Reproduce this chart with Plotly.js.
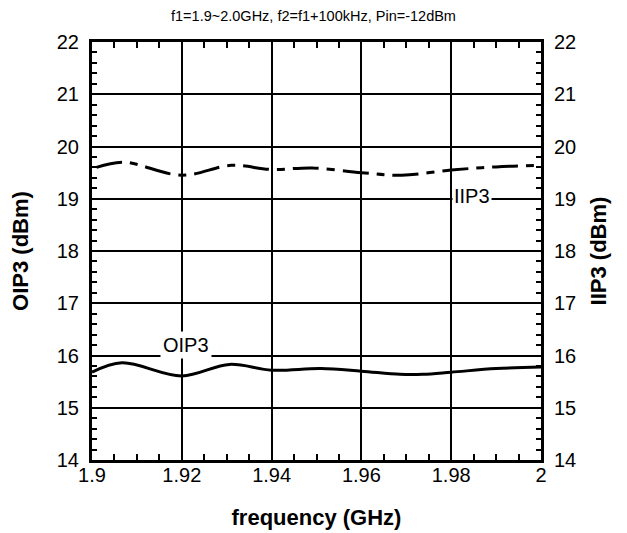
<!DOCTYPE html>
<html>
<head>
<meta charset="utf-8">
<script src="https://cdn.plot.ly/plotly-3.0.1.min.js"></script>
<style>html,body{margin:0;padding:0;background:#fff;}#chart{width:627px;height:533px;}</style>
</head>
<body>
<div id="chart"></div>
<script>
const titleText = "f1=1.9~2.0GHz, f2=f1+100kHz, Pin=-12dBm";
const xTitle = "frequency (GHz)";
const yLeftTitle = "OIP3 (dBm)";
const yRightTitle = "IIP3 (dBm)";

const oip3Freq = [1.900, 1.9067, 1.920, 1.9306, 1.940, 1.951, 1.960, 1.9686, 1.9737, 1.980, 1.990, 2.000];
const oip3Val  = [15.68, 15.86, 15.61, 15.83, 15.72, 15.75, 15.70, 15.64, 15.64, 15.68, 15.75, 15.78];

const iip3Freq = [1.901, 1.907, 1.920, 1.931, 1.940, 1.949, 1.960, 1.969, 1.980, 1.990, 2.000];
const iip3Val  = [19.60, 19.70, 19.45, 19.64, 19.56, 19.59, 19.50, 19.45, 19.55, 19.61, 19.64];

const xTickVals = [1.9, 1.92, 1.94, 1.96, 1.98, 2.0];
const xTickText = ["1.9", "1.92", "1.94", "1.96", "1.98", "2"];
const yTickVals = [14, 15, 16, 17, 18, 19, 20, 21, 22];

const labelOIP3 = {text: "OIP3", x: 1.921, y: 16.2};
const labelIIP3 = {text: "IIP3", x: 1.9846, y: 19.05};

const font = "Liberation Sans, Arial, sans-serif";

const traces = [
  {x: oip3Freq, y: oip3Val, mode: "lines", name: "OIP3",
   line: {color: "#000", width: 3, shape: "spline"}, xaxis: "x", yaxis: "y", showlegend: false},
  {x: iip3Freq, y: iip3Val, mode: "lines", name: "IIP3",
   line: {color: "#000", width: 3, shape: "spline", dash: "26px,8px,8px,8px"}, xaxis: "x", yaxis: "y2", showlegend: false}
];

const layout = {
  width: 627, height: 533,
  margin: {l: 92, r: 86, t: 42, b: 73},
  paper_bgcolor: "#fff", plot_bgcolor: "#fff",
  font: {family: font, color: "#000", size: 20},
  title: {text: titleText, font: {family: font, size: 14.5, color: "#000"}, x: 0.5, xanchor: "center", y: 0.97, yanchor: "middle"},
  showlegend: false,
  xaxis: {
    range: [1.9, 2.0], tickvals: xTickVals, ticktext: xTickText,
    showgrid: true, gridcolor: "#000", gridwidth: 2,
    showline: true, linecolor: "#000", linewidth: 3, mirror: "allticks",
    ticks: "inside", ticklen: 6, tickwidth: 2, tickcolor: "#000",
    minor: {dtick: 0.005, ticks: "inside", ticklen: 5, tickwidth: 2, tickcolor: "#000", showgrid: false},
    zeroline: false, tickfont: {size: 20}, ticklabelstandoff: -5,
    title: {text: xTitle, font: {family: font, size: 22, weight: "bold"}, standoff: 25}
  },
  yaxis: {
    range: [14, 22], tickvals: yTickVals,
    showgrid: true, gridcolor: "#000", gridwidth: 2,
    showline: true, linecolor: "#000", linewidth: 3, mirror: false,
    ticks: "inside", ticklen: 6, tickwidth: 2, tickcolor: "#000",
    minor: {dtick: 0.2, ticks: "inside", ticklen: 5, tickwidth: 2, tickcolor: "#000", showgrid: false},
    zeroline: false, tickfont: {size: 20}, ticklabelstandoff: 6,
    title: {text: yLeftTitle, font: {family: font, size: 22, weight: "bold"}, standoff: 23}
  },
  yaxis2: {
    range: [14, 22], tickvals: yTickVals, overlaying: "y", side: "right",
    showgrid: false,
    showline: true, linecolor: "#000", linewidth: 3,
    ticks: "inside", ticklen: 6, tickwidth: 2, tickcolor: "#000",
    minor: {dtick: 0.2, ticks: "inside", ticklen: 5, tickwidth: 2, tickcolor: "#000", showgrid: false},
    zeroline: false, tickfont: {size: 20}, ticklabelstandoff: 6,
    title: {text: yRightTitle, font: {family: font, size: 22, weight: "bold"}, standoff: 16}
  },
  annotations: [
    {x: labelOIP3.x, y: labelOIP3.y, xref: "x", yref: "y", text: labelOIP3.text, showarrow: false,
     font: {family: font, size: 20, color: "#000"}, bgcolor: "#fff", borderpad: 2},
    {x: labelIIP3.x, y: labelIIP3.y, xref: "x", yref: "y", text: labelIIP3.text, showarrow: false,
     font: {family: font, size: 20, color: "#000"}, bgcolor: "#fff", borderpad: 1}
  ]
};

Plotly.newPlot("chart", traces, layout, {displayModeBar: false, staticPlot: true});
</script>
</body>
</html>
